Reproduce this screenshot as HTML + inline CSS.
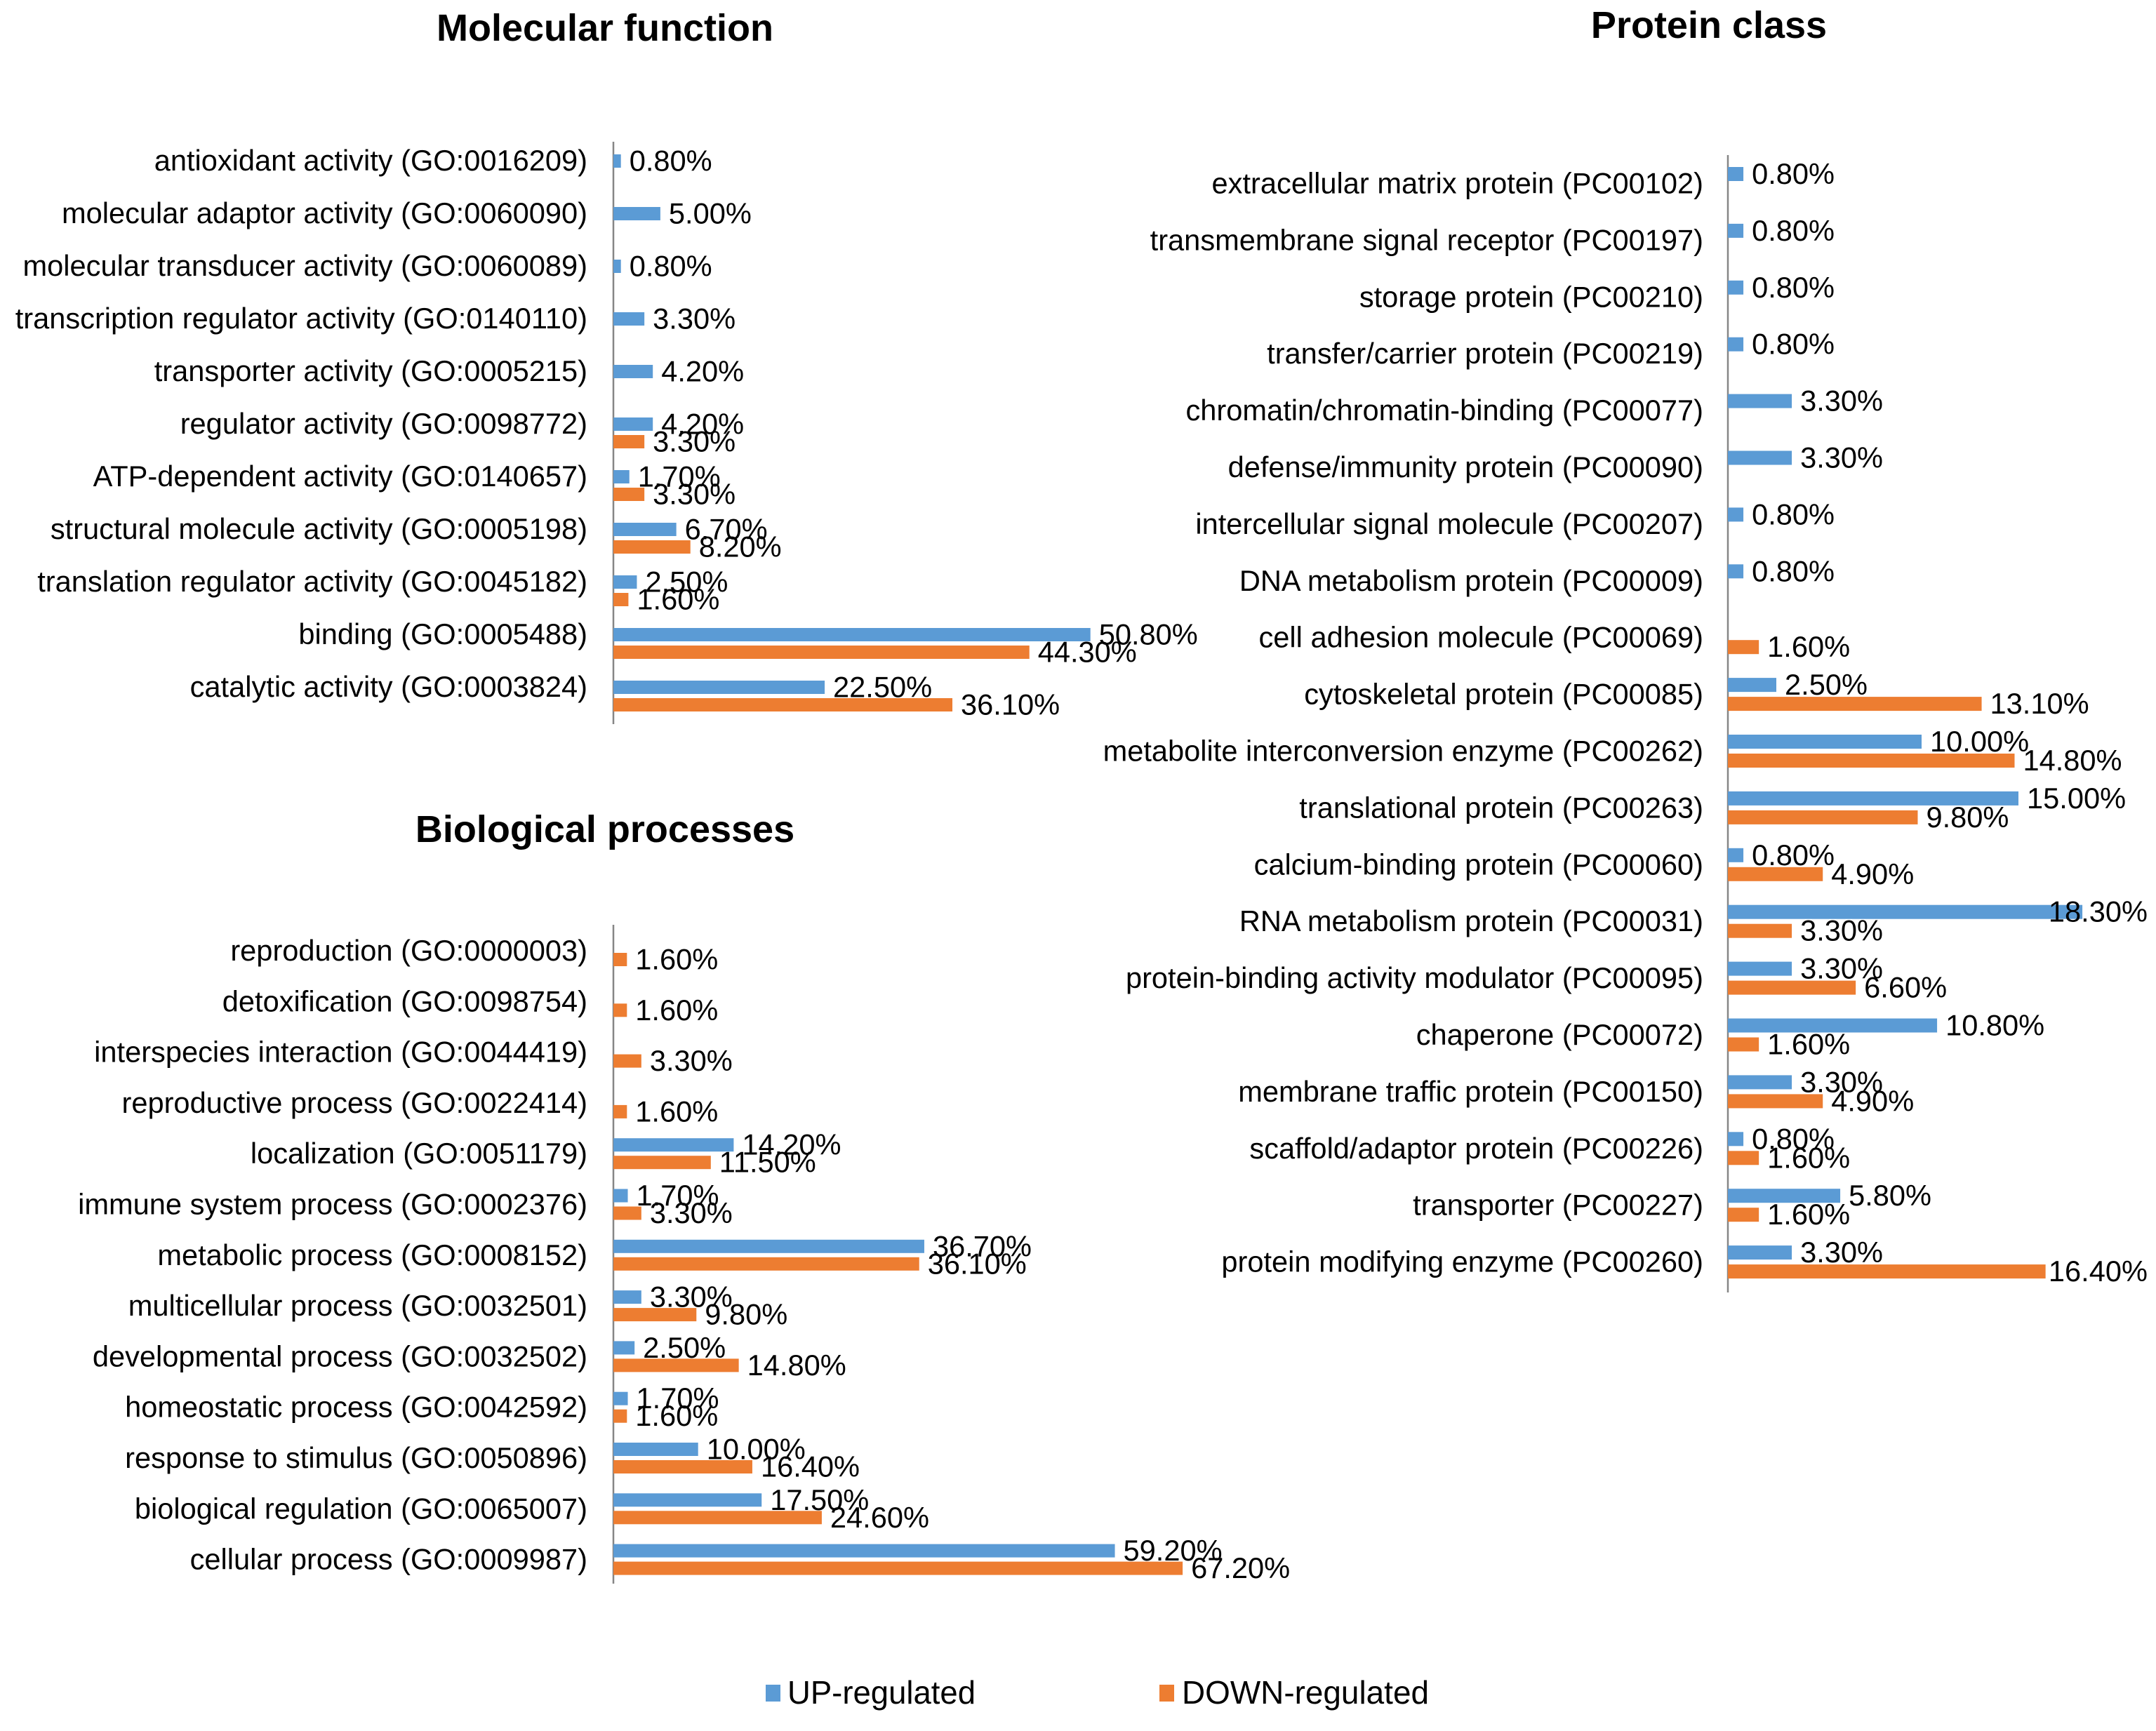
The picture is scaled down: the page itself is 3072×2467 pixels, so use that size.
<!DOCTYPE html>
<html><head><meta charset="utf-8"><style>
html,body{margin:0;padding:0;background:#fff}
svg{display:block;font-family:"Liberation Sans",Arial,sans-serif}
</style></head><body>
<svg id="chart" width="3072" height="2467" viewBox="0 0 3072 2467" xmlns="http://www.w3.org/2000/svg">
<text x="862" y="58" font-size="54" font-weight="bold" text-anchor="middle">Molecular function</text>
<text x="862" y="1200" font-size="54" font-weight="bold" text-anchor="middle">Biological processes</text>
<text x="2435" y="54" font-size="54" font-weight="bold" text-anchor="middle">Protein class</text>
<g>
<rect x="1091" y="2401" width="21" height="24" fill="#5B9BD5"/>
<text x="1122" y="2428" font-size="46" textLength="268" lengthAdjust="spacingAndGlyphs">UP-regulated</text>
<rect x="1652" y="2401" width="21" height="24" fill="#ED7D31"/>
<text x="1684" y="2428" font-size="46" textLength="352" lengthAdjust="spacingAndGlyphs">DOWN-regulated</text>
</g>
</svg>
<script>
const mfCategories=["antioxidant activity (GO:0016209)","molecular adaptor activity (GO:0060090)","molecular transducer activity (GO:0060089)","transcription regulator activity (GO:0140110)","transporter activity (GO:0005215)","regulator activity (GO:0098772)","ATP-dependent activity (GO:0140657)","structural molecule activity (GO:0005198)","translation regulator activity (GO:0045182)","binding (GO:0005488)","catalytic activity (GO:0003824)"];
const mfUp=[0.8,5.0,0.8,3.3,4.2,4.2,1.7,6.7,2.5,50.8,22.5];
const mfDown=[null,null,null,null,null,3.3,3.3,8.2,1.6,44.3,36.1];
const bpCategories=["reproduction (GO:0000003)","detoxification (GO:0098754)","interspecies interaction (GO:0044419)","reproductive process (GO:0022414)","localization (GO:0051179)","immune system process (GO:0002376)","metabolic process (GO:0008152)","multicellular process (GO:0032501)","developmental process (GO:0032502)","homeostatic process (GO:0042592)","response to stimulus (GO:0050896)","biological regulation (GO:0065007)","cellular process (GO:0009987)"];
const bpUp=[null,null,null,null,14.2,1.7,36.7,3.3,2.5,1.7,10.0,17.5,59.2];
const bpDown=[1.6,1.6,3.3,1.6,11.5,3.3,36.1,9.8,14.8,1.6,16.4,24.6,67.2];
const pcCategories=["extracellular matrix protein (PC00102)","transmembrane signal receptor (PC00197)","storage protein (PC00210)","transfer/carrier protein (PC00219)","chromatin/chromatin-binding (PC00077)","defense/immunity protein (PC00090)","intercellular signal molecule (PC00207)","DNA metabolism protein (PC00009)","cell adhesion molecule (PC00069)","cytoskeletal protein (PC00085)","metabolite interconversion enzyme (PC00262)","translational protein (PC00263)","calcium-binding protein (PC00060)","RNA metabolism protein (PC00031)","protein-binding activity modulator (PC00095)","chaperone (PC00072)","membrane traffic protein (PC00150)","scaffold/adaptor protein (PC00226)","transporter (PC00227)","protein modifying enzyme (PC00260)"];
const pcUp=[0.8,0.8,0.8,0.8,3.3,3.3,0.8,0.8,null,2.5,10.0,15.0,0.8,18.3,3.3,10.8,3.3,0.8,5.8,3.3];
const pcDown=[null,null,null,null,null,null,null,null,1.6,13.1,14.8,9.8,4.9,3.3,6.6,1.6,4.9,1.6,1.6,16.4];

const NS="http://www.w3.org/2000/svg";
const svg=document.getElementById('chart');
function mk(tag,attrs,parent){const e=document.createElementNS(NS,tag);for(const k in attrs)e.setAttribute(k,attrs[k]);parent.appendChild(e);return e;}

function drawChart(cfg){
  const g=mk('g',{},svg);
  
  
  const xs=v=>cfg.x0+v*cfg.pxPer;
  const ys=i=>cfg.c0+i*cfg.step;
  const axis=mk('line',{x1:cfg.x0,x2:cfg.x0,y1:cfg.axisTop,y2:cfg.axisBot,stroke:'#868686','stroke-width':2.5},g);
  
  
  cfg.cats.forEach((c,i)=>{
    const cy=ys(i);
    const t=mk('text',{x:cfg.labelRight,y:cy+cfg.labelDy+14,'font-size':41.6,'text-anchor':'end'},g);
    t.textContent=c;
    
    
    [[cfg.up,-cfg.off,'#5B9BD5','up'],[cfg.down,cfg.off,'#ED7D31','down']].forEach(([arr,dy,col,key])=>{
      const v=arr[i];
      if(v==null)return;
      const by=cy+dy;
      const r=mk('rect',{x:cfg.x0,y:by-cfg.bh/2,width:xs(v)-cfg.x0,height:cfg.bh,fill:col},g);
      
      
      const vt=mk('text',{x:xs(v)+12,y:by+14,'font-size':41.6},g);
      vt.textContent=v.toFixed(2)+'%';
      
      
      const w=vt.getComputedTextLength();
      if(xs(v)+12+w>3060)vt.setAttribute('x',3060-w);
    });
  });
}
drawChart({name:'molecular-function',cats:mfCategories,up:mfUp,down:mfDown,x0:874,pxPer:13.38,c0:242,step:75.0,off:12.5,bh:19,axisTop:202,axisBot:1032,labelRight:837,labelDy:-13});
drawChart({name:'biological-processes',cats:bpCategories,up:bpUp,down:bpDown,x0:874,pxPer:12.07,c0:1355,step:72.3,off:12.5,bh:19,axisTop:1318,axisBot:2257,labelRight:837,labelDy:0});
drawChart({name:'protein-class',cats:pcCategories,up:pcUp,down:pcDown,x0:2462,pxPer:27.6,c0:261.5,step:80.9,off:13.5,bh:20,axisTop:221,axisBot:1842,labelRight:2427,labelDy:0});
</script>
</body></html>
